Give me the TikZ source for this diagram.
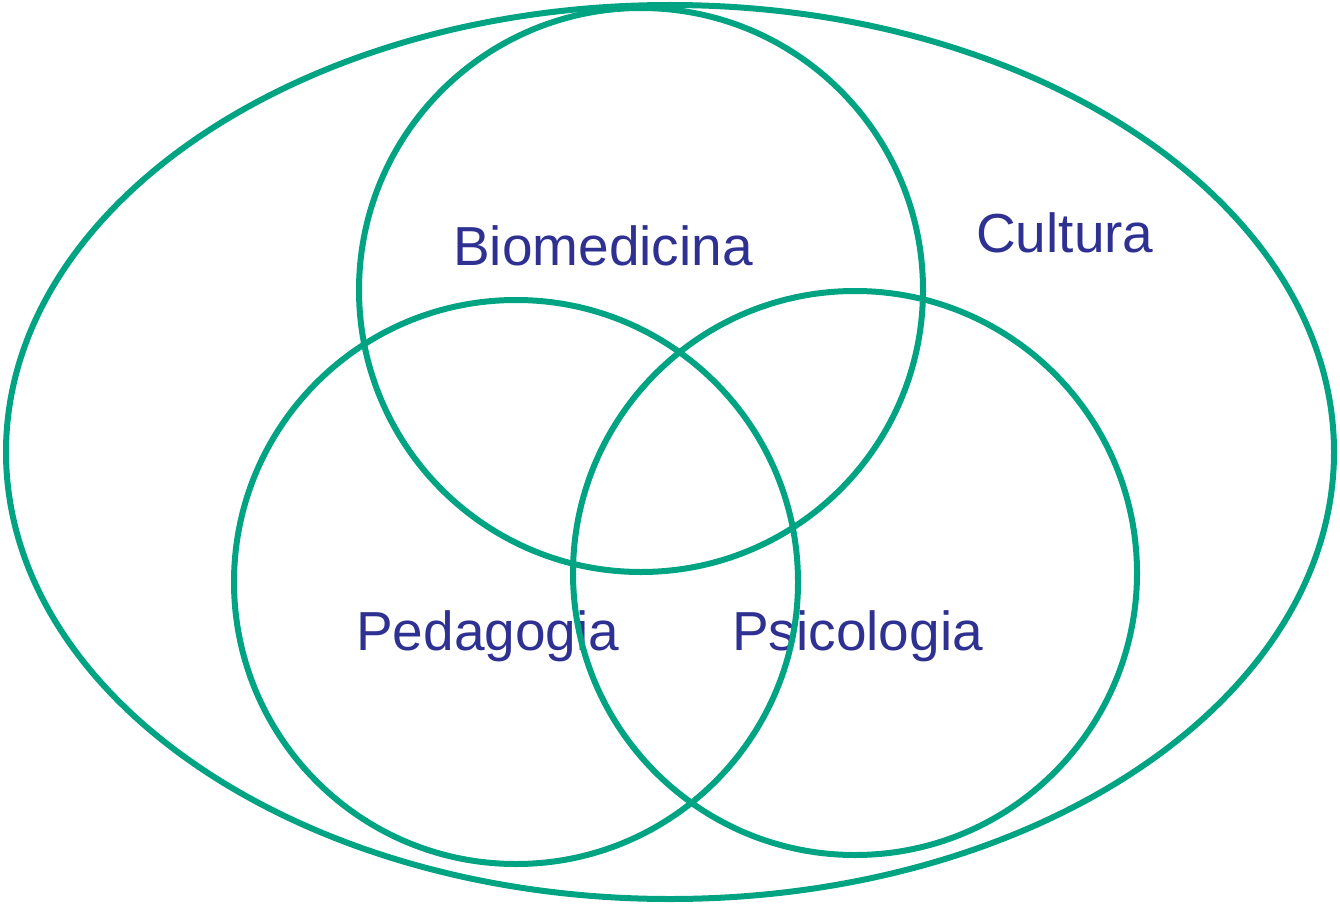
\documentclass[tikz,border=0pt]{standalone}
\usepackage{fontspec}
\setmainfont{Liberation Sans}
\definecolor{vgreen}{HTML}{00A382}
\definecolor{vblue}{HTML}{2E3192}
\begin{document}
\begin{tikzpicture}[x=1pt,y=-1pt,
  ring/.style={draw=vgreen,line width=6pt},
  lbl/.style={text=vblue,font=\fontsize{55}{60}\selectfont,inner sep=0pt,anchor=base west}]
\useasboundingbox (0,0) rectangle (1340,904);
\node[lbl] (bio) at (453,265) {Biomedicina};
\node[lbl] (cul) at (976,252) {Cultura};
\node[lbl] (ped) at (356,650) {Pedagogia};
\node[lbl] (psi) at (732,650) {Psicologia};
\draw[ring] (670,452) ellipse [x radius=664, y radius=447];
\draw[ring] (641,290) circle [radius=282];
\draw[ring] (516,582) circle [radius=282];
\draw[ring] (855,573) circle [radius=282];
\end{tikzpicture}
\end{document}
